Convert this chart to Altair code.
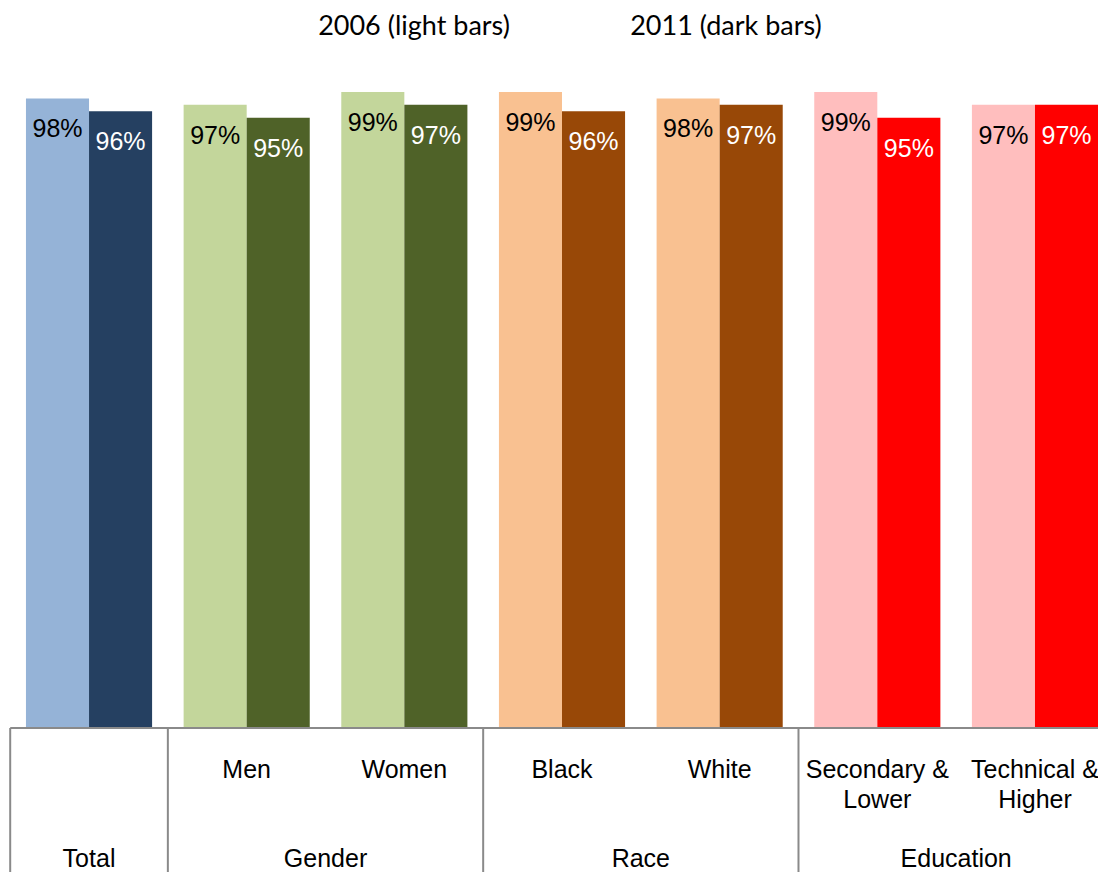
import altair as alt
import pandas as pd

# ---- data ----
categories = ["Total", "Men", "Women", "Black", "White",
              "Secondary & Lower", "Technical & Higher"]
cat_lines = [[""], ["Men"], ["Women"], ["Black"], ["White"],
             ["Secondary &", "Lower"], ["Technical &", "Higher"]]
groups = ["Total", "Gender", "Gender", "Race", "Race", "Education", "Education"]
values_2006 = [98, 97, 99, 99, 98, 99, 97]
values_2011 = [96, 95, 97, 96, 97, 95, 97]
years = ["2006", "2011"]
legend_labels = ["2006 (light bars)", "2011 (dark bars)"]

group_order = ["Total", "Gender", "Race", "Education"]
light_colors = ["#95B3D7", "#C3D69B", "#F9C191", "#FFBEBE"]
dark_colors = ["#254061", "#4F6228", "#984807", "#FF0000"]

# ---- tables built from the lists ----
rows = []
for i, (cat, grp) in enumerate(zip(categories, groups)):
    for yr, vals in zip(years, [values_2006, values_2011]):
        left = yr == years[0]
        rows.append({
            "category": cat,
            "group": grp,
            "year": yr,
            "value": vals[i],
            "label": f"{vals[i]}%",
            "x0": i - 0.4 if left else i,
            "x1": i if left else i + 0.4,
            "xm": i - 0.2 if left else i + 0.2,
            "key": f"{grp}-{yr}",
            "tcol": "light" if left else "dark",
        })
bars_df = pd.DataFrame(rows)

color_domain = [f"{g}-{years[0]}" for g in group_order] + [f"{g}-{years[1]}" for g in group_order]
color_range = light_colors + dark_colors

sub_df = pd.DataFrame({"idx": list(range(len(categories))), "lines": cat_lines})

grp_rows = []
for g in group_order:
    idxs = [i for i, gg in enumerate(groups) if gg == g]
    grp_rows.append({"group": g, "xc": sum(idxs) / len(idxs)})
grp_df = pd.DataFrame(grp_rows)

# separators at the start of each group
sep = [-0.5] + [i - 0.5 for i in range(1, len(groups)) if groups[i] != groups[i - 1]]
sep_df = pd.DataFrame({"xs": sep})

base_df = pd.DataFrame({"a": [-0.5], "b": [len(categories) - 0.5], "y": [0]})
leg_df = pd.DataFrame({"text": legend_labels, "px": [406, 718]})

W, H = 1090, 864
XS = alt.Scale(domain=[-0.5, len(categories) - 0.5], range=[2.2, 1105.8], nice=False, zero=False)
YS = alt.Scale(domain=[0, 100], range=[720, 77.6], nice=False, zero=False)

FONT = "Liberation Sans"

bars = alt.Chart(bars_df).mark_bar().encode(
    x=alt.X("x0:Q", scale=XS, axis=None),
    x2="x1:Q",
    y=alt.Y("value:Q", scale=YS, axis=None),
    y2=alt.datum(0),
    color=alt.Color("key:N", scale=alt.Scale(domain=color_domain, range=color_range), legend=None),
)

bar_text = alt.Chart(bars_df).mark_text(
    font=FONT, fontSize=25, baseline="top", align="center", dy=19
).encode(
    x=alt.X("xm:Q", scale=XS, axis=None),
    y=alt.Y("value:Q", scale=YS, axis=None),
    text="label:N",
    color=alt.Color("tcol:N", scale=alt.Scale(domain=["light", "dark"], range=["#000000", "#FFFFFF"]), legend=None),
)

baseline = alt.Chart(base_df).mark_rule(color="#8A8A8A", strokeWidth=2).encode(
    x=alt.X("a:Q", scale=XS, axis=None), x2="b:Q", y=alt.Y("y:Q", scale=YS, axis=None),
)

seps = alt.Chart(sep_df).mark_rule(color="#8A8A8A", strokeWidth=2).encode(
    x=alt.X("xs:Q", scale=XS, axis=None), y=alt.value(720), y2=alt.value(H),
)

sub_text = alt.Chart(sub_df).mark_text(
    font=FONT, fontSize=25, baseline="top", align="center", lineHeight=29.5, color="#000000"
).encode(
    x=alt.X("idx:Q", scale=XS, axis=None), y=alt.value(750), text="lines",
)

grp_text = alt.Chart(grp_df).mark_text(
    font=FONT, fontSize=25, baseline="top", align="center", color="#000000"
).encode(
    x=alt.X("xc:Q", scale=XS, axis=None), y=alt.value(839), text="group:N",
)

leg_text = alt.Chart(leg_df).mark_text(
    font="Lato", fontSize=27, baseline="alphabetic", align="center", color="#000000"
).encode(
    x=alt.X("px:Q", scale=alt.Scale(domain=[0, W], range=[0, W], nice=False, zero=False), axis=None),
    y=alt.value(27), text="text:N",
)

chart = alt.layer(bars, bar_text, baseline, seps, sub_text, grp_text, leg_text).resolve_scale(
    color="independent", x="independent"
).properties(
    width=W, height=H, padding=0, background="#FFFFFF",
    autosize=alt.AutoSizeParams(type="none"),
).configure_view(strokeWidth=0, stroke="transparent")

chart.save("out.html", embed_options={"renderer": "svg", "actions": False})
